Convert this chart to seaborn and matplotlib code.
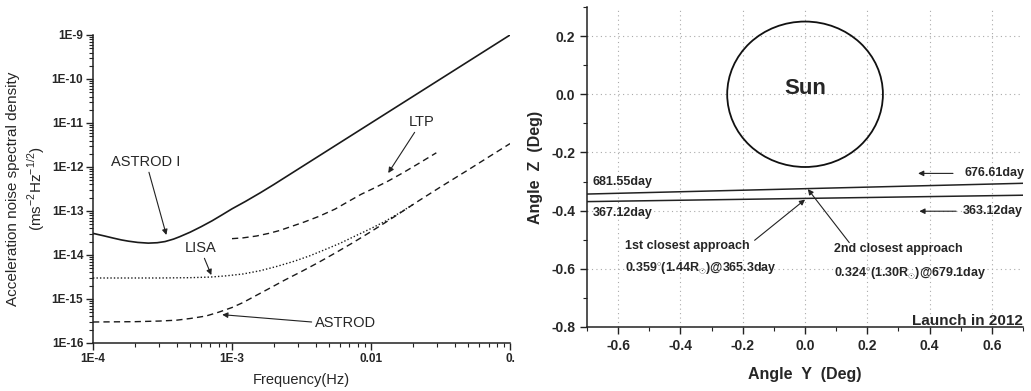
import matplotlib
matplotlib.use('Agg')
import matplotlib.pyplot as plt
from matplotlib.patches import Circle
from matplotlib.ticker import FixedLocator, LogLocator, NullFormatter, MultipleLocator, FormatStrFormatter
import numpy as np
import pandas as pd
import seaborn as sns

# --- data (frequency in Hz, noise in m s^-2 Hz^-1/2)
astrod1_f = [1e-4, 1.2e-4, 1.4e-4, 1.6e-4, 1.8e-4, 2.1e-4, 2.5e-4, 2.9e-4, 3.3e-4,
             3.8e-4, 4.2e-4, 5e-4, 6e-4, 7.2e-4, 8.5e-4, 1e-3, 1.25e-3, 1.6e-3,
             2e-3, 3e-3, 5e-3, 1e-2, 2e-2, 5e-2, 1e-1]
astrod1_a = [3.1e-14, 2.72e-14, 2.42e-14, 2.2e-14, 2.06e-14, 1.93e-14, 1.86e-14, 1.9e-14, 2.02e-14,
             2.3e-14, 2.6e-14, 3.3e-14, 4.4e-14, 6.0e-14, 8.2e-14, 1.12e-13, 1.65e-13, 2.6e-13,
             4.0e-13, 9.0e-13, 2.5e-12, 1.0e-11, 4.0e-11, 2.5e-10, 1.0e-9]

ltp_f = [1e-3, 1.2e-3, 1.5e-3, 1.84e-3, 2.2e-3, 2.7e-3, 3.3e-3, 4.2e-3, 5.5e-3, 7e-3,
         8.5e-3, 1.05e-2, 1.33e-2, 1.7e-2, 2.2e-2, 2.95e-2]
ltp_a = [2.35e-14, 2.45e-14, 2.7e-14, 3.1e-14, 3.6e-14, 4.5e-14, 5.6e-14, 7.5e-14, 1.1e-13, 1.7e-13,
         2.4e-13, 3.3e-13, 4.8e-13, 7.4e-13, 1.2e-12, 2.1e-12]

lisa_f = [1e-4, 3e-4, 5e-4, 7e-4, 9e-4, 1.2e-3, 1.6e-3, 2.1e-3, 2.8e-3, 3.6e-3, 4.6e-3,
          6e-3, 7.5e-3, 1e-2, 1.26e-2, 1.6e-2, 2e-2]
lisa_a = [3.0e-15, 3.0e-15, 3.05e-15, 3.15e-15, 3.35e-15, 3.7e-15, 4.4e-15, 5.5e-15, 7.2e-15,
          9.5e-15, 1.3e-14, 1.85e-14, 2.6e-14, 4.0e-14, 5.8e-14, 9.0e-14, 1.4e-13]

astrod_f = [1e-4, 2e-4, 3e-4, 4e-4, 5e-4, 6.5e-4, 8e-4, 1e-3, 1.2e-3, 1.4e-3, 1.8e-3, 2.4e-3,
            3.2e-3, 4.2e-3, 5.5e-3, 7.3e-3, 1e-2, 1.26e-2, 1.6e-2, 2.2e-2, 3.2e-2, 5e-2, 7e-2, 1e-1]
astrod_a = [3.0e-16, 3.05e-16, 3.15e-16, 3.3e-16, 3.6e-16, 4.1e-16, 5.0e-16, 6.4e-16, 8.3e-16,
            1.08e-15, 1.65e-15, 2.7e-15, 4.3e-15, 6.8e-15, 1.1e-14, 1.85e-14, 3.4e-14, 5.4e-14,
            8.8e-14, 1.7e-13, 3.6e-13, 8.6e-13, 1.68e-12, 3.4e-12]

yticks_left = [1e-16, 1e-15, 1e-14, 1e-13, 1e-12, 1e-11, 1e-10, 1e-9]
ylabels_left = ['1E-16', '1E-15', '1E-14', '1E-13', '1E-12', '1E-11', '1E-10', '1E-9']
xticks_left = [1e-4, 1e-3, 1e-2, 1e-1]
xlabels_left = ['1E-4', '1E-3', '0.01', '0.']

# --- data (angles in degrees)
traj_y = [-0.7, 0.0, 0.7]
traj_z_2nd = [-0.343, -0.3245, -0.306]   # 681.55day -> 676.61day
traj_z_1st = [-0.369, -0.358, -0.347]    # 367.12day -> 363.12day
sun_radius = 0.25

sns.set_style('ticks')
plt.rcParams['font.family'] = ['Liberation Sans', 'DejaVu Sans']
plt.rcParams['mathtext.fontset'] = 'custom'
plt.rcParams['mathtext.rm'] = 'Liberation Sans'
plt.rcParams['mathtext.bf'] = 'Liberation Sans:bold'

fig = plt.figure(figsize=(10.31, 3.91), dpi=100)
ax1 = fig.add_axes([0.0902, 0.1228, 0.4045, 0.7877])
ax2 = fig.add_axes([0.5694, 0.1637, 0.4229, 0.8184])

# ---------------- left panel
curves = [
    (astrod1_f, astrod1_a, '-'),
    (ltp_f, ltp_a, (0, (4.5, 3))),
    (lisa_f, lisa_a, (0, (1, 1.5))),
    (astrod_f, astrod_a, (0, (4.5, 3))),
]
for f, a, ls in curves:
    df = pd.DataFrame({'f': f, 'a': a})
    sns.lineplot(data=df, x='f', y='a', ax=ax1, color='#1a1a1a',
                 linestyle=ls, lw=1.2 if ls == '-' else 1.0, sort=False)

ax1.set_xscale('log')
ax1.set_yscale('log')
ax1.set_xlim(1e-4, 1e-1)
ax1.set_ylim(1e-16, 1e-9)
ax1.xaxis.set_major_locator(FixedLocator(xticks_left))
ax1.set_xticklabels(xlabels_left)
ax1.yaxis.set_major_locator(FixedLocator(yticks_left))
ax1.set_yticklabels(ylabels_left)
ax1.xaxis.set_minor_locator(LogLocator(base=10, subs=np.arange(2, 10)))
ax1.yaxis.set_minor_locator(LogLocator(base=10, subs=np.arange(2, 10)))
ax1.xaxis.set_minor_formatter(NullFormatter())
ax1.yaxis.set_minor_formatter(NullFormatter())
ax1.tick_params(which='major', length=5, width=1, labelsize=8.5, color='#222', pad=2)
ax1.tick_params(which='minor', length=3, width=0.8, color='#222')
for lab in ax1.get_xticklabels() + ax1.get_yticklabels():
    lab.set_fontweight('bold')
ax1.set_xlabel('Frequency(Hz)', fontsize=10.5, labelpad=6)
ax1.set_ylabel('Acceleration noise spectral density\n(ms$^{-2}$Hz$^{-1/2}$)', fontsize=11,
               labelpad=3, linespacing=1.35)
sns.despine(ax=ax1)
for s in ['left', 'bottom']:
    ax1.spines[s].set_linewidth(1.1)
    ax1.spines[s].set_color('#222')

arr = dict(arrowstyle='-|>', color='#222', lw=0.8, mutation_scale=8, shrinkA=0, shrinkB=0)
ax1.annotate('ASTROD I', xy=(3.37e-4, 2.85e-14), xytext=(2.41e-4, 1.3e-12),
             ha='center', va='center', fontsize=10.5, arrowprops=arr)
ax1.annotate('LTP', xy=(1.33e-2, 7.3e-13), xytext=(2.3e-2, 1.05e-11),
             ha='center', va='center', fontsize=10.5, arrowprops=arr)
ax1.annotate('LISA', xy=(7.1e-4, 3.5e-15), xytext=(5.9e-4, 1.44e-14),
             ha='center', va='center', fontsize=10.5, arrowprops=arr)
ax1.annotate('', xy=(8.5e-4, 4.4e-16), xytext=(3.74e-3, 3.0e-16), arrowprops=arr)
ax1.text(6.6e-3, 2.85e-16, 'ASTROD', ha='center', va='center', fontsize=10.5)

# ---------------- right panel
for z in [traj_z_2nd, traj_z_1st]:
    df = pd.DataFrame({'y': traj_y, 'z': z})
    sns.lineplot(data=df, x='y', y='z', ax=ax2, color='#222', lw=1.1, sort=False)

ax2.add_patch(Circle((0.0, 0.0), sun_radius, fill=False, ec='#111', lw=1.3))
ax2.text(0.0, 0.019, 'Sun', ha='center', va='center', fontsize=16, fontweight='bold')

ax2.set_xlim(-0.7, 0.7)
ax2.set_ylim(-0.8, 0.3)
ax2.xaxis.set_major_locator(FixedLocator([-0.6, -0.4, -0.2, 0.0, 0.2, 0.4, 0.6]))
ax2.yaxis.set_major_locator(FixedLocator([-0.8, -0.6, -0.4, -0.2, 0.0, 0.2]))
ax2.xaxis.set_minor_locator(MultipleLocator(0.1))
ax2.yaxis.set_minor_locator(MultipleLocator(0.1))
ax2.xaxis.set_major_formatter(FormatStrFormatter('%.1f'))
ax2.yaxis.set_major_formatter(FormatStrFormatter('%.1f'))
ax2.tick_params(which='major', length=5, width=1, labelsize=10, color='#222')
ax2.tick_params(which='minor', length=3, width=0.8, color='#222')
for lab in ax2.get_xticklabels() + ax2.get_yticklabels():
    lab.set_fontweight('bold')
ax2.grid(True, which='major', linestyle=(0, (1, 3)), color='#aaa', lw=0.8)
ax2.set_axisbelow(True)
ax2.set_xlabel('Angle  Y  (Deg)', fontsize=11.5, fontweight='bold', labelpad=10)
ax2.set_ylabel('Angle  Z  (Deg)', fontsize=11.5, fontweight='bold', labelpad=6)
sns.despine(ax=ax2)
for s in ['left', 'bottom']:
    ax2.spines[s].set_linewidth(1.1)
    ax2.spines[s].set_color('#222')

bk = dict(fontsize=9, fontweight='bold', va='center')
ax2.text(-0.683, -0.302, '681.55day', ha='left', **bk)
ax2.text(-0.681, -0.408, '367.12day', ha='left', **bk)
ax2.text(0.705, -0.272, '676.61day', ha='right', **bk)
ax2.text(0.700, -0.402, '363.12day', ha='right', **bk)
ax2.annotate('', xy=(0.363, -0.272), xytext=(0.475, -0.272), arrowprops=arr)
ax2.annotate('', xy=(0.367, -0.402), xytext=(0.485, -0.402), arrowprops=arr)

ax2.annotate('', xy=(0.0, -0.362), xytext=(-0.162, -0.502), arrowprops=arr)
ax2.annotate('', xy=(0.009, -0.326), xytext=(0.142, -0.51), arrowprops=arr)
ax2.text(-0.577, -0.522, '1st closest approach', ha='left', **bk)
ax2.text(-0.577, -0.596, r'0.359$^{\circ}$(1.44R$_{\odot}$)@365.3day', ha='left', **bk)
ax2.text(0.094, -0.533, '2nd closest approach', ha='left', **bk)
ax2.text(0.094, -0.613, r'0.324$^{\circ}$(1.30R$_{\odot}$)@679.1day', ha='left', **bk)
ax2.text(0.698, -0.78, 'Launch in 2012', ha='right', va='center', fontsize=11, fontweight='bold')

fig.savefig('out.png', dpi=100)
